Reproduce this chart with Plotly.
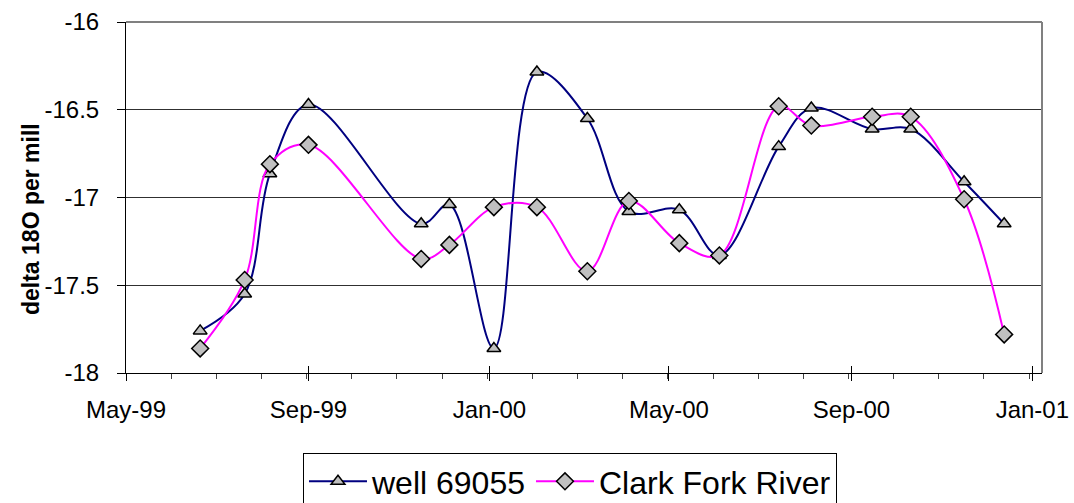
import plotly.graph_objects as go

# Sample dates (shared by both series)
dates = ["1999-06-20", "1999-07-20", "1999-08-06", "1999-09-01", "1999-11-16",
         "1999-12-05", "2000-01-04", "2000-02-02", "2000-03-07", "2000-04-04",
         "2000-05-08", "2000-06-04", "2000-07-14", "2000-08-05", "2000-09-15",
         "2000-10-11", "2000-11-16", "2000-12-13"]

well_69055 = [-17.76, -17.55, -16.865, -16.47, -17.15, -17.04, -17.86, -16.285,
              -16.55, -17.08, -17.07, -17.33, -16.71, -16.49, -16.61, -16.61,
              -16.91, -17.15]

clark_fork = [-17.86, -17.47, -16.81, -16.70, -17.35, -17.27, -17.055, -17.055,
              -17.42, -17.02, -17.26, -17.33, -16.48, -16.59, -16.54, -16.54,
              -17.01, -17.78]

y_ticks = [-18, -17.5, -17, -16.5, -16]
y_tick_text = ["-18", "-17.5", "-17", "-16.5", "-16"]

x_range = ["1999-05-01", "2001-01-07 12:00"]
font_family = "Arial, Liberation Sans, sans-serif"

fig = go.Figure()
fig.add_trace(go.Scatter(
    x=dates, y=well_69055, name="well 69055", mode="lines+markers",
    line=dict(color="#000080", width=2, shape="spline", smoothing=1),
    marker=dict(symbol="triangle-up", size=12, color="#C0C0C0",
                line=dict(color="#000000", width=1.5)),
))
fig.add_trace(go.Scatter(
    x=dates, y=clark_fork, name="Clark Fork River", mode="lines+markers",
    line=dict(color="#FF00FF", width=2, shape="spline", smoothing=1),
    marker=dict(symbol="diamond", size=13, color="#C0C0C0",
                line=dict(color="#000000", width=1.5)),
))
# invisible trace on overlay axis to carry inside ("cross") tick halves
fig.add_trace(go.Scatter(x=x_range, y=[None, None], xaxis="x2", showlegend=False,
                         hoverinfo="skip"))

fig.update_layout(
    width=1074, height=503,
    margin=dict(l=126, r=32, t=22, b=130, autoexpand=False),
    paper_bgcolor="white", plot_bgcolor="white",
    font=dict(family=font_family, color="black"),
    showlegend=True,
    legend=dict(orientation="h", x=0.4847, xanchor="center", y=-0.228, yanchor="top",
                bordercolor="black", borderwidth=1, font=dict(size=32),
                bgcolor="white", itemwidth=58),
    xaxis=dict(
        type="date", range=x_range, tick0="1999-05-01", dtick="M4",
        tickformat="%b-%y", ticks="outside", ticklen=7, tickcolor="black",
        tickwidth=1, showline=True, linecolor="black", linewidth=1,
        showgrid=False, zeroline=False, tickfont=dict(size=24),
        ticklabelstandoff=8, automargin=False,
        minor=dict(tick0="1999-05-01", dtick=30.44 * 86400000, ticks="outside",
                   ticklen=5, tickcolor="#404040", showgrid=False),
    ),
    xaxis2=dict(
        type="date", range=x_range, overlaying="x", anchor="y", side="bottom",
        tick0="1999-05-01", dtick="M4", ticks="inside", ticklen=7,
        tickcolor="black", showticklabels=False, showline=False, showgrid=False,
        zeroline=False, automargin=False,
    ),
    yaxis=dict(
        range=[-18, -16], tickvals=y_ticks, ticktext=y_tick_text,
        ticks="outside", ticklen=8, tickcolor="black", showline=True,
        linecolor="black", linewidth=1, showgrid=True, gridcolor="#303030",
        gridwidth=1, zeroline=False, tickfont=dict(size=24),
        ticklabelstandoff=13, automargin=False,
    ),
    shapes=[
        dict(type="line", xref="x domain", yref="y domain", x0=0, x1=1, y0=1, y1=1,
             line=dict(color="#808080", width=2), layer="above"),
        dict(type="line", xref="x domain", yref="y domain", x0=1, x1=1, y0=0, y1=1,
             line=dict(color="#808080", width=2), layer="above"),
    ],
    annotations=[
        dict(text="<b>delta 18O per mill</b>", xref="paper", yref="paper",
             x=0, y=0.4387, xanchor="center", yanchor="middle", xshift=-95,
             textangle=-90, showarrow=False, font=dict(size=23, color="black")),
    ],
)

fig.write_html(
    "out.html",
    config={"displayModeBar": False},
    post_script="document.body.style.margin='0';document.body.style.padding='0';",
)
